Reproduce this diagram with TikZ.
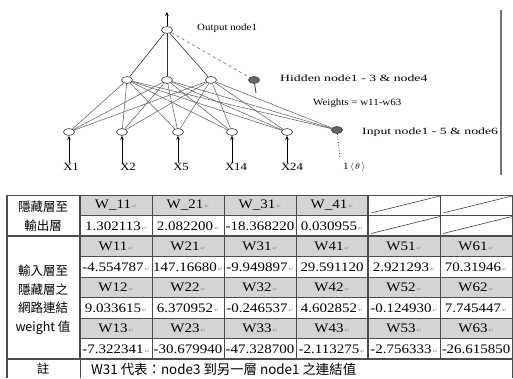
\documentclass[tikz,border=0pt]{standalone}
\usepackage{fontspec}
\setmainfont{Liberation Serif}
\newfontfamily\cjk{Noto Sans CJK TC}
\newfontfamily\wide[FakeStretch=1.15]{Liberation Serif}
\newfontfamily\wider[FakeStretch=1.45]{Liberation Serif}
\newfontfamily\symfont{DejaVu Sans}
\usetikzlibrary{positioning,arrows.meta,shapes.geometric}
\newcommand{\crmark}{{\symfont\fontsize{6}{6}\selectfont\color{black!45}\,↵}}

\begin{document}
\begin{tikzpicture}[x=1pt,y=-1pt,
   neuron/.style={ellipse,draw=black!80,fill=white,minimum width=11pt,
     minimum height=7pt,inner sep=0pt,line width=0.6pt},
   bias/.style={neuron,fill=black!60},
   wire/.style={black!65,line width=0.5pt},
   feed/.style={-{Stealth[length=4pt,width=3.5pt]},line width=1pt},
   lbl/.style={font=\wide\fontsize{9.5}{10}\selectfont,inner sep=0pt},
   xlbl/.style={font=\wide\fontsize{11}{11}\selectfont,inner sep=0pt},
   cell/.style={font=\wide\fontsize{13}{13}\selectfont,inner sep=0pt},
   cjkcell/.style={font=\cjk\fontsize{12.5}{18.5}\selectfont,inner sep=0pt,align=center},
   rule/.style={black!70,line width=0.7pt}]
  \useasboundingbox (0,0) rectangle (513,378);

  % network
  \node[neuron] (out) at (167,30) {};
  \coordinate (top) at (167,12);
  \node[neuron] (h1) at (127,80) {};
  \node[neuron] (h2) at (167,80) {};
  \node[neuron] (h3) at (211,80) {};
  \node[bias] (hb) at (254,80) {};
  \coordinate (hbs) at (256,93);
  \node[neuron] (in1) at (69,132) {};
  \node[neuron] (in2) at (122,132) {};
  \node[neuron] (in3) at (178,132) {};
  \node[neuron] (in4) at (232,132) {};
  \node[neuron] (in5) at (287,132) {};
  \node[bias] (ib) at (337,130) {};
  \coordinate (ibs) at (340,158);
  \node[xlbl] (x1) at (71,167) {X1};
  \node[xlbl] (x2) at (128,167) {X2};
  \node[xlbl] (x3) at (181,167) {X5};
  \node[xlbl] (x4) at (236,167) {X14};
  \node[xlbl] (x5) at (292,167) {X24};

  \draw[feed] (out) -- (top);
  \foreach \h in {h1,h2,h3}
    \draw[wire,black!80,line width=0.6pt] (\h) -- (out);
  \draw[wire,dashed] (out) -- (hb);
  \draw[black!80,line width=0.8pt] (hb) -- (hbs);
  \foreach \i in {in1,in2,in3,in4,in5,ib}
    \foreach \h in {h1,h2,h3}
      \draw[wire] (\i) -- (\h);
  \foreach \n in {1,...,5}
    \draw[feed] (x\n.north -| in\n) -- (in\n);
  \draw[black!80,line width=0.8pt,dotted] (ib) -- (ibs);

  \node[lbl,anchor=west] (outtxt) at (197,28) {Output node1};
  \node[lbl,anchor=west,font=\wider\fontsize{9.5}{10}\selectfont] (hidtxt) at (280,78) {Hidden node1 - 3 \& node4};
  \node[lbl,anchor=west] (wtxt) at (313,103) {Weights = w11-w63};
  \node[lbl,anchor=west,font=\wider\fontsize{9.5}{10}\selectfont] (intxt) at (362,132) {Input node1 - 5 \& node6};
  \node[lbl,anchor=west] (btxt) at (343,167) {1\,$\langle\,\theta\,\rangle$};
  \draw[black!55,line width=1.2pt] (501,10) -- (501,175);

  % table
  \fill[black!17] (80,195) rectangle (368,215.5);
  \foreach \y in {236,277,318}
    \fill[black!17] (80,\y) rectangle (512,\y+20.5);
  \draw[rule] (7,195) -- (512,195);
  \foreach \y in {215.5,256.5,277,297.5,318,338.5}
    \draw[rule] (80,\y) -- (512,\y);
  \foreach \y in {236,359}
    \draw[rule,line width=1.4pt] (7,\y) -- (512,\y);
  \foreach \x in {152,224,296,440,512}
    \draw[rule] (\x,195) -- (\x,359);
  \foreach \x in {80,368}
    \draw[rule,line width=1.2pt] (\x,195) -- (\x,359);
  \draw[rule] (80,359) -- (80,378);
  \draw[rule] (512,359) -- (512,378);
  \draw[rule,line width=2pt] (7,195) -- (7,378);
  \foreach \x in {368,440}
    \foreach \y in {195,215.5}
      \draw[black!75,line width=0.6pt] (\x+3,\y+18) -- (\x+72,\y+1);

  \foreach \row [count=\r] in {%
      {W\_11\crmark,W\_21\crmark,W\_31\crmark,W\_41\crmark},
      {1.302113\crmark,2.082200\crmark,-18.368220,0.030955\crmark},
      {W11\crmark,W21\crmark,W31\crmark,W41\crmark,W51\crmark,W61\crmark},
      {-4.554787\crmark,147.16680\crmark,-9.949897\crmark,29.591120,2.921293\crmark,70.31946\crmark},
      {W12\crmark,W22\crmark,W32\crmark,W42\crmark,W52\crmark,W62\crmark},
      {9.033615\crmark,6.370952\crmark,-0.246537\crmark,4.602852\crmark,-0.124930\crmark,7.745447\crmark},
      {W13\crmark,W23\crmark,W33\crmark,W43\crmark,W53\crmark,W63\crmark},
      {-7.322341\crmark,-30.679940,-47.328700,-2.113275\crmark,-2.756333\crmark,-26.615850}}
    \foreach \v [count=\c] in \row
      \node[cell] (c\r-\c) at ({116+72*(\c-1)},{205.5+20.5*(\r-1)}) {\v};

  \node[cjkcell] (hout) at (43,216) {隱藏層至\\輸出層};
  \node[cjkcell] (inhid) at (43,300) {輸入層至\\隱藏層之\\網路連結\\weight 值};
  \node[cjkcell] (note) at (43,369) {註};
  \node[cjkcell,anchor=west,font=\cjk\fontsize{13.4}{13.4}\selectfont] (notetxt) at (91,369)
    {W31 代表：node3 到另一層 node1 之連結值};
\end{tikzpicture}
\end{document}
